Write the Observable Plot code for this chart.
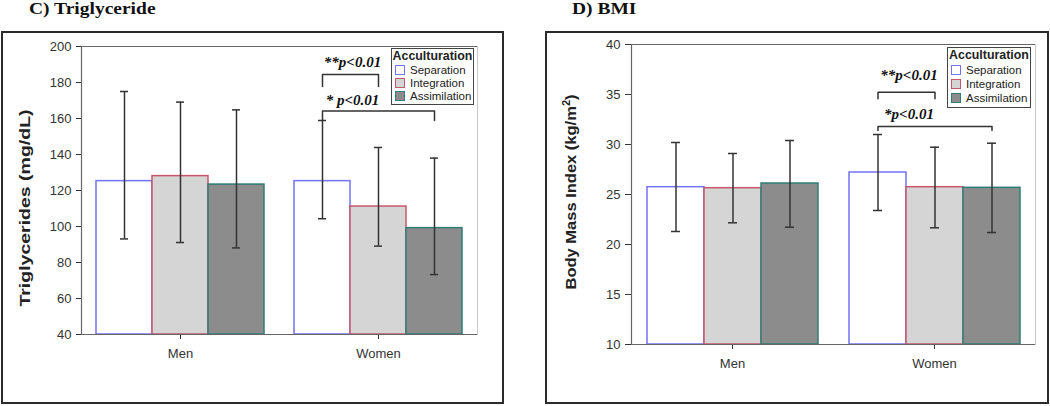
<!DOCTYPE html>
<html>
<head>
<meta charset="utf-8">
<script src="https://cdn.jsdelivr.net/npm/d3@7"></script>
<script src="https://cdn.jsdelivr.net/npm/@observablehq/plot@0.6"></script>
<style>
  body { margin: 0; background: #fff; }
  #root { position: relative; width: 1050px; height: 406px; overflow: hidden; font-family: "Liberation Sans", Arial, sans-serif; }
  .title { position: absolute; font-family: "Liberation Serif", "DejaVu Serif", serif; font-weight: bold; font-size: 19.5px; line-height: 19px; color: #111; white-space: nowrap; transform-origin: left top; transform: scaleY(0.88); }
  .box { position: absolute; border: 2px solid #2a2a2a; box-sizing: border-box; pointer-events: none; z-index: 3; }
  .chart { position: absolute; z-index: 1; }
  .ytitle { position: absolute; font-weight: bold; font-size: 15px; line-height: 15px; color: #222; white-space: nowrap; z-index: 2; }
  .ytitle sup { font-size: 10px; line-height: 0; }
  .legend { position: absolute; border: 1.5px solid #444; background: #fff; z-index: 2; box-sizing: border-box; color: #222; }
  .legend .lt { font-weight: bold; font-size: 12.4px; text-align: center; white-space: nowrap; }
  .legend .row { display: flex; align-items: center; font-size: 11.5px; white-space: nowrap; }
  .legend .sw { width: 8px; height: 8px; border: 1.5px solid; margin: 0 5px 0 3px; flex: none; }
</style>
</head>
<body>
<div id="root"></div>
<script>
// ---------- data ----------
const sexes = ["Men", "Women"];
const groups = ["Separation", "Integration", "Assimilation"];
const groupFill = ["#ffffff", "#d5d5d5", "#8c8c8c"];
const groupStroke = ["#7373f5", "#c8566c", "#2f7d76"];

// order: Men (Separation, Integration, Assimilation), Women (Separation, Integration, Assimilation)
const tgMean = [125.2, 128.0, 123.3, 125.2, 111.1, 99.1];
const tgLow  = [93.1, 91.1, 88.1, 104.3, 89.1, 73.3];
const tgHigh = [175.0, 169.1, 164.8, 158.9, 143.9, 138.0];
const tgDomain = [40, 200];
const tgTicks = [40, 60, 80, 100, 120, 140, 160, 180, 200];
const tgSigSex = ["Women", "Women"];
const tgSigFrom = ["Separation", "Separation"];
const tgSigTo = ["Integration", "Assimilation"];
const tgSigTop = [184.4, 164.1];
const tgSigLeg = [177.8, 158.9];
const tgSigLabelY = [191.1, 170.4];
const tgSigLabel = ["**p<0.01", "* p<0.01"];

const bmiMean = [25.73, 25.63, 26.1, 27.2, 25.73, 25.67];
const bmiLow  = [21.3, 22.17, 21.73, 23.4, 21.67, 21.2];
const bmiHigh = [30.2, 29.1, 30.4, 31.0, 29.73, 30.13];
const bmiDomain = [10, 40];
const bmiTicks = [10, 15, 20, 25, 30, 35, 40];
const bmiSigSex = ["Women", "Women"];
const bmiSigFrom = ["Separation", "Separation"];
const bmiSigTo = ["Integration", "Assimilation"];
const bmiSigTop = [35.23, 31.8];
const bmiSigLeg = [34.57, 31.4];
const bmiSigLabelY = [36.9, 33.0];
const bmiSigLabel = ["**p<0.01", "*p<0.01"];

// ---------- chart builder ----------
function makeChart(o) {
  const rows = [];
  sexes.forEach((s, i) => groups.forEach((g, j) => {
    const k = i * 3 + j;
    rows.push({sex: s, group: g, mean: o.mean[k], low: o.low[k], high: o.high[k]});
  }));
  const base = o.domain[0];
  const pts = [];
  o.sigFrom.forEach((f, i) => {
    const t = o.sigTo[i], s = o.sigSex[i];
    pts.push({id: i, sex: s, x: f, y: o.sigLeg[i]}, {id: i, sex: s, x: f, y: o.sigTop[i]},
             {id: i, sex: s, x: t, y: o.sigTop[i]}, {id: i, sex: s, x: t, y: o.sigLeg[i]});
  });
  const labels = o.sigLabel.map((t, i) => ({text: t, sex: o.sigSex[i], x: groups[1], y: o.sigLabelY[i]}));
  return Plot.plot({
    width: o.width, height: o.height,
    marginLeft: o.ml, marginRight: o.mr, marginTop: o.mt, marginBottom: o.mb,
    style: {fontFamily: "Liberation Sans, Arial, sans-serif", fontSize: "13px", color: "#333", background: "none", overflow: "visible"},
    fx: {domain: sexes, padding: 0, label: null, axis: "bottom", tickSize: 5, tickPadding: 9},
    x: {domain: groups, axis: null, paddingInner: 0, paddingOuter: 0.25},
    y: {domain: o.domain, ticks: o.ticks, label: null, tickSize: o.tickSize, tickPadding: 5},
    marks: [
      ...groups.map((g, j) => Plot.barY(rows.filter(d => d.group === g), {
        fx: "sex", x: "group", y1: base, y2: "mean",
        fill: groupFill[j], stroke: groupStroke[j], strokeWidth: 1.5
      })),
      Plot.ruleX(rows, {fx: "sex", x: "group", y1: "low", y2: "high", stroke: "#333", strokeWidth: 1.5}),
      Plot.tickY(rows, {fx: "sex", x: "group", y: "high", stroke: "#333", strokeWidth: 1.5, insetLeft: 24, insetRight: 24}),
      Plot.tickY(rows, {fx: "sex", x: "group", y: "low", stroke: "#333", strokeWidth: 1.5, insetLeft: 24, insetRight: 24}),
      Plot.line(pts, {fx: "sex", x: "x", y: "y", z: "id", stroke: "#333", strokeWidth: 1.5, strokeLinejoin: "round"}),
      Plot.text(labels, {fx: "sex", x: "x", y: "y", text: "text", dx: -26,
        fontFamily: "Liberation Serif, serif", fontWeight: "bold", fontStyle: "italic", fontSize: 15, fill: "#111"}),
      Plot.ruleY(o.domain, {stroke: "#666", strokeWidth: 1.2}),
      Plot.frame({anchor: "left", facetAnchor: "left", stroke: "#666", strokeWidth: 1.2}),
      Plot.frame({anchor: "right", facetAnchor: "right", stroke: "#c8c8c8", strokeWidth: 1})
    ]
  });
}

function legend(left, top, w, h, titleH, rowH) {
  const d = document.createElement("div");
  d.className = "legend";
  Object.assign(d.style, {left: left + "px", top: top + "px", width: w + "px", height: h + "px"});
  const t = document.createElement("div");
  t.className = "lt"; t.textContent = "Acculturation";
  t.style.height = titleH + "px"; t.style.lineHeight = titleH + "px";
  d.appendChild(t);
  groups.forEach((g, j) => {
    const r = document.createElement("div");
    r.className = "row"; r.style.height = rowH + "px";
    const s = document.createElement("span");
    s.className = "sw"; s.style.background = groupFill[j]; s.style.borderColor = groupStroke[j];
    r.appendChild(s);
    r.appendChild(document.createTextNode(g));
    d.appendChild(r);
  });
  return d;
}

const root = document.getElementById("root");
function place(el, cls, left, top) {
  const w = document.createElement("div");
  w.className = cls; w.style.left = left + "px"; w.style.top = top + "px";
  w.appendChild(el); root.appendChild(w); return w;
}
function addDiv(cls, html, style) {
  const d = document.createElement("div");
  d.className = cls; d.innerHTML = html; Object.assign(d.style, style); root.appendChild(d); return d;
}

// Titles
addDiv("title", "C) Triglyceride", {left: "29px", top: "0px"});
addDiv("title", "D) BMI", {left: "572px", top: "0px"});

// Boxes
addDiv("box", "", {left: "1px", top: "31px", width: "503px", height: "373px"});
addDiv("box", "", {left: "545px", top: "31px", width: "504px", height: "373px"});

// Charts
place(makeChart({mean: tgMean, low: tgLow, high: tgHigh, domain: tgDomain, ticks: tgTicks,
  sigSex: tgSigSex, sigFrom: tgSigFrom, sigTo: tgSigTo, sigTop: tgSigTop, sigLeg: tgSigLeg,
  sigLabelY: tgSigLabelY, sigLabel: tgSigLabel,
  width: 520, height: 374, ml: 81, mr: 43, mt: 14, mb: 72, tickSize: 5}), "chart", 0, 32);
place(makeChart({mean: bmiMean, low: bmiLow, high: bmiHigh, domain: bmiDomain, ticks: bmiTicks,
  sigSex: bmiSigSex, sigFrom: bmiSigFrom, sigTo: bmiSigTo, sigTop: bmiSigTop, sigLeg: bmiSigLeg,
  sigLabelY: bmiSigLabelY, sigLabel: bmiSigLabel,
  width: 510, height: 374, ml: 90, mr: 15, mt: 12, mb: 62, tickSize: 6}), "chart", 540, 32);

// Y titles
addDiv("ytitle", "Triglycerides (mg/dL)", {left: "24px", top: "208px", transform: "translate(-50%,-50%) rotate(-90deg) scaleX(1.3)"});
addDiv("ytitle", "Body Mass Index (kg/m<sup>2</sup>)", {left: "570px", top: "192px", transform: "translate(-50%,-50%) rotate(-90deg) scaleX(1.1)"});

// Legends
root.appendChild(legend(391, 48, 83, 57, 14, 13.3));
root.appendChild(legend(947, 47, 84, 61, 15, 14));
</script>
</body>
</html>
